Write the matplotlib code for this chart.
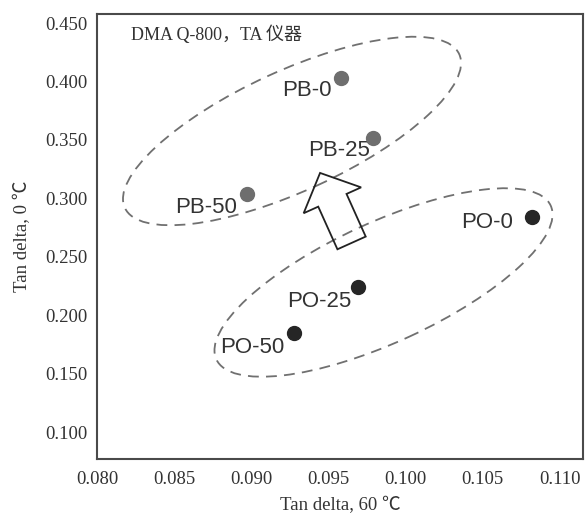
import matplotlib
matplotlib.use("Agg")
import matplotlib.pyplot as plt
from matplotlib.patches import Ellipse, FancyArrow
from matplotlib.transforms import ScaledTranslation

# Loss factor data (tan delta at 60 °C vs. tan delta at 0 °C)
samples = ["PB-0", "PB-25", "PB-50", "PO-0", "PO-25", "PO-50"]
tan_delta_60 = [0.0958, 0.0979, 0.0897, 0.1082, 0.0969, 0.0928]
tan_delta_0 = [0.403, 0.352, 0.304, 0.284, 0.224, 0.185]
groups = ["PB", "PB", "PB", "PO", "PO", "PO"]

x_ticks = [0.080, 0.085, 0.090, 0.095, 0.100, 0.105, 0.110]
y_ticks = [0.100, 0.150, 0.200, 0.250, 0.300, 0.350, 0.400, 0.450]

group_colors = {"PB": "#6e6e6e", "PO": "#262626"}
# label offsets in points (right edge / baseline relative to the dot)
label_offsets = {
    "PB-0": (-6.5, -13), "PB-25": (-2, -13), "PB-50": (-7, -13.7),
    "PO-0": (-13.7, -8), "PO-25": (-4.3, -14.4), "PO-50": (-7, -14.4),
}

fig = plt.figure(figsize=(5.87, 5.14), dpi=100)
ax = fig.add_axes([97 / 587, 1 - 459 / 514, 486 / 587, 445 / 514])
ax.set_xlim(0.080, 0.1115)
ax.set_ylim(0.0773, 0.4577)

serif = ["Liberation Serif", "Noto Sans CJK SC", "DejaVu Sans"]
ax.set_xticks(x_ticks)
ax.set_yticks(y_ticks)
ax.set_xticklabels([f"{v:.3f}" for v in x_ticks], family=serif, fontsize=13.5, color="#333333")
ax.set_yticklabels([f"{v:.3f}" for v in y_ticks], family=serif, fontsize=13.5, color="#333333")
ax.tick_params(axis="both", length=0)
ax.tick_params(axis="x", pad=9)
ax.tick_params(axis="y", pad=7)
for s in ax.spines.values():
    s.set_linewidth(1.5)
    s.set_color("#4a4a4a")

ax.set_xlabel("Tan delta, 60 ℃", family=serif, fontsize=13.5, color="#333333", labelpad=6)
ax.set_ylabel("Tan delta, 0 ℃", family=serif, fontsize=13.5, color="#333333", labelpad=10)

# dashed grouping ellipses, sized in inches and centred on data positions
ellipse_centres = [(0.09264, 0.3577), (0.09857, 0.2282)]
for cx, cy in ellipse_centres:
    tr = fig.dpi_scale_trans + ScaledTranslation(cx, cy, ax.transData)
    e = Ellipse((0, 0), width=3.68, height=1.20, angle=24.7, transform=tr,
                fill=False, edgecolor="#707070", linewidth=1.3,
                linestyle=(0, (6, 4)))
    ax.add_patch(e)

# hollow block arrow
tr = fig.dpi_scale_trans + ScaledTranslation(0.0965, 0.2620, ax.transData)
arrow = FancyArrow(0, 0, -0.315, 0.70, width=0.31, head_width=0.63,
                   head_length=0.30, length_includes_head=True,
                   transform=tr, fill=False, edgecolor="#222222", linewidth=1.3)
ax.add_patch(arrow)

for name, x, y, g in zip(samples, tan_delta_60, tan_delta_0, groups):
    ax.plot(x, y, "o", markersize=10, color=group_colors[g], zorder=5)
    ox, oy = label_offsets[name]
    ax.annotate(name, (x, y), xytext=(ox, oy), textcoords="offset points",
                ha="right", va="baseline", fontsize=16,
                family=["Liberation Sans", "DejaVu Sans"], color="#333333")

ax.text(0.07, 0.975, "DMA Q-800，TA 仪器", transform=ax.transAxes, ha="left", va="top",
        fontsize=13, family=serif, color="#333333")

fig.savefig("out.png", dpi=100)
